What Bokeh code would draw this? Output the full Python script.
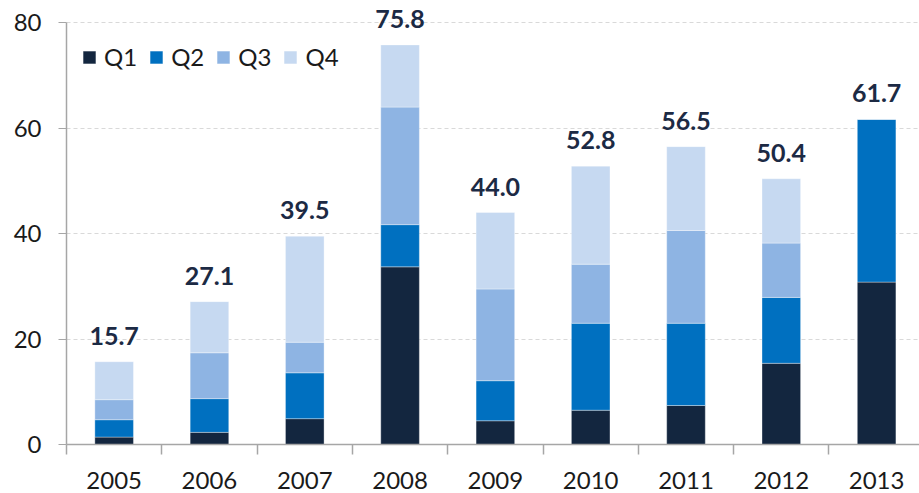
from bokeh.plotting import figure
from bokeh.models import ColumnDataSource, FixedTicker, Range1d, Legend, LegendItem, LabelSet
from bokeh.core.properties import value
from bokeh.embed import file_html
from bokeh.resources import INLINE

years = ["2005", "2006", "2007", "2008", "2009", "2010", "2011", "2012", "2013"]
q1 = [1.4, 2.3, 4.9, 33.7, 4.5, 6.5, 7.4, 15.4, 30.8]
q2 = [3.3, 6.4, 8.7, 8.0, 7.6, 16.5, 15.6, 12.5, 30.9]
q3 = [3.8, 8.7, 5.8, 22.3, 17.4, 11.2, 17.6, 10.3, 0.0]
q4 = [7.2, 9.7, 20.1, 11.8, 14.5, 18.6, 15.9, 12.2, 0.0]
totals = [15.7, 27.1, 39.5, 75.8, 44.0, 52.8, 56.5, 50.4, 61.7]
quarters = ["Q1", "Q2", "Q3", "Q4"]
colors = ["#13263F", "#0070C0", "#8EB4E3", "#C6D9F1"]
y_ticks = [0, 20, 40, 60, 80]

FONT = "Lato"
TEXT = "#1a1a1a"

xs = list(range(len(years)))
series = [q1, q2, q3, q4]
data = {"x": xs, "total": totals, "label": [f"{t:.1f}" for t in totals]}
for q, s in zip(quarters, series):
    data[q] = s
src = ColumnDataSource(data)

p = figure(width=919, height=493, output_backend="svg", toolbar_location=None,
           x_range=Range1d(-0.5, 8.45), y_range=Range1d(0, 82.7),
           min_border_left=66, min_border_right=0, min_border_top=8, min_border_bottom=49)
p.outline_line_color = None
p.background_fill_color = "white"
p.border_fill_color = "white"

renderers = p.vbar_stack(quarters, x="x", width=0.405, source=src, color=colors,
                         line_color="white", line_alpha=0.35, line_width=1)

labels = LabelSet(x="x", y="total", text="label", source=src, text_align="center",
                  text_baseline="bottom", y_offset=17, text_font=value(FONT),
                  text_font_size="25px", text_font_style="bold", text_color="#1C2A44")
p.add_layout(labels)

# axes
p.xaxis.ticker = FixedTicker(ticks=xs, minor_ticks=[i - 0.5 for i in range(len(years) + 1)])
p.xaxis.major_label_overrides = {i: y for i, y in enumerate(years)}
p.xaxis.major_tick_line_color = None
p.xaxis.major_tick_out = 0
p.xaxis.major_tick_in = 0
p.xaxis.minor_tick_out = 10
p.xaxis.minor_tick_in = 0
p.xaxis.minor_tick_line_color = "#A6A6A6"
p.xaxis.minor_tick_line_width = 1.5
p.xaxis.axis_line_color = "#A6A6A6"
p.xaxis.axis_line_width = 1.5
p.xaxis.major_label_standoff = 17
p.xaxis.major_label_text_font = FONT
p.xaxis.major_label_text_font_size = "24px"
p.xaxis.major_label_text_color = TEXT

p.yaxis.ticker = FixedTicker(ticks=y_ticks)
p.yaxis.bounds = (0, 80)
p.yaxis.axis_line_color = "#A6A6A6"
p.yaxis.axis_line_width = 1.5
p.yaxis.major_tick_line_color = "#A6A6A6"
p.yaxis.major_tick_out = 8
p.yaxis.major_tick_in = 0
p.yaxis.minor_tick_line_color = None
p.yaxis.major_label_standoff = 17
p.yaxis.major_label_text_font = FONT
p.yaxis.major_label_text_font_size = "24px"
p.yaxis.major_label_text_color = TEXT

p.xgrid.grid_line_color = None
p.ygrid.ticker = FixedTicker(ticks=[20, 40, 60, 80])
p.ygrid.grid_line_color = "#D9D9D9"
p.ygrid.grid_line_dash = "4 3"
p.ygrid.grid_line_width = 1

legend = Legend(items=[LegendItem(label=q, renderers=[r]) for q, r in zip(quarters, renderers)],
                orientation="horizontal", location=(15, 373), padding=0, margin=0,
                spacing=11, glyph_width=16, glyph_height=16, label_standoff=7,
                label_text_font=FONT, label_text_font_size="24px", label_text_color=TEXT,
                border_line_color=None, background_fill_alpha=0)
p.add_layout(legend, "center")

open("out.html", "w").write(file_html(p, INLINE))
